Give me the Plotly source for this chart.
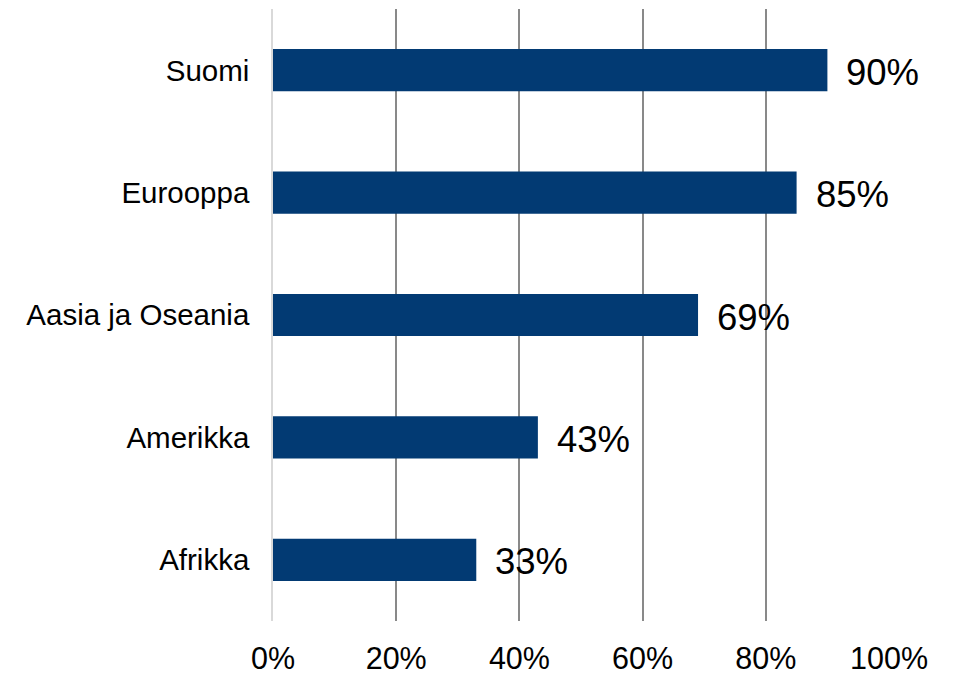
import plotly.graph_objects as go

categories = ["Suomi", "Eurooppa", "Aasia ja Oseania", "Amerikka", "Afrikka"]
values = [0.90, 0.85, 0.69, 0.43, 0.33]
tick_vals = [0, 0.2, 0.4, 0.6, 0.8, 1.0]
tick_text = ["0%", "20%", "40%", "60%", "80%", "100%"]

FONT = "Liberation Sans, Arial, sans-serif"

fig = go.Figure()
fig.add_trace(go.Bar(
    x=values, y=categories, orientation="h",
    marker=dict(color="#023a73", line=dict(width=0)),
    hoverinfo="skip",
))

for c, v in zip(categories, values):
    fig.add_annotation(
        x=v, y=c, xref="x", yref="y",
        text=f"{round(v*100)}%", showarrow=False,
        xanchor="left", yanchor="middle", xshift=17, yshift=-2,
        font=dict(family=FONT, size=36.5, color="#000000"),
    )

# page body has an 8px default margin, so the figure is 8px smaller
fig.update_layout(
    width=950, height=668,
    margin=dict(l=265, r=69, t=1, b=55, autoexpand=False),
    plot_bgcolor="white", paper_bgcolor="white",
    bargap=0.655,
    showlegend=False,
    font=dict(family=FONT, color="#000000"),
)
fig.update_xaxes(
    range=[0, 1], tickvals=tick_vals, ticktext=tick_text,
    showgrid=True, gridcolor="#898989", gridwidth=1.5,
    zeroline=False, showline=False, automargin=False,
    tickfont=dict(family=FONT, size=30.5, color="#000000"),
    ticks="", ticklabelstandoff=16,
)
fig.update_yaxes(
    autorange="reversed", automargin=False,
    showline=True, linecolor="#d9d9d9", linewidth=1.5,
    showgrid=False, zeroline=False,
    tickfont=dict(family=FONT, size=29.5, color="#000000"),
    ticks="", ticklabelstandoff=16,
)

fig.write_html("out.html")
